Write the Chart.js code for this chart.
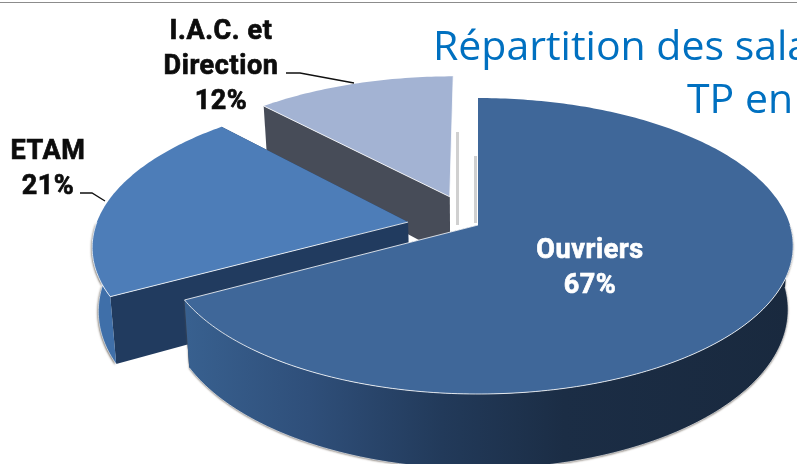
<!DOCTYPE html>
<html lang="fr">
<head>
<meta charset="utf-8">
<style>
html,body{margin:0;padding:0;background:#fff;overflow:hidden}
#wrap{width:797px;height:464px;position:relative}
</style>
<script src="https://cdn.jsdelivr.net/npm/chart.js@4/dist/chart.umd.min.js"></script>
</head>
<body>
<div id="wrap"><canvas id="c" width="797" height="464"></canvas></div>
<script>
// ---- data ----
const categories = ['Ouvriers', 'ETAM', 'I.A.C. et Direction'];
const shares = [67, 21, 12];
const titleLines = ['Répartition des sala', 'TP en'];

// ---- styles ----
const topColors = ['#3f6799', '#4d7db8', '#a3b3d3'];
const cutWallColors = ['#213b5f', '#213b5f', '#474c58'];
const rimWallColors = [null, '#3f6fa9', null];

// ---- pie placement: perspective camera and slice explosion ----
const cam = {cx: 478, top: {y0: 225, a: 312, b: 145}, bottom: {y0: 287, a: 307, b: 156}, p: -0.142};
const explode = [[0, 0], [-0.225, -0.02], [-0.093, -0.2]];
const drawOrder = [2, 1, 0];

function project(u, v, plane) {
  const w = 1 + cam.p * v;
  return [cam.cx + plane.a * u / w, plane.y0 + plane.b * v / w];
}
function rim(start, end, e, plane) {
  const pts = [], n = Math.max(8, Math.ceil((end - start) * 60));
  for (let i = 0; i <= n; i++) {
    const t = start + (end - start) * i / n;
    pts.push(project(Math.cos(t) + e[0], Math.sin(t) + e[1], plane));
  }
  return pts;
}
function path(ctx, pts, close) {
  ctx.beginPath();
  pts.forEach((p, i) => i ? ctx.lineTo(p[0], p[1]) : ctx.moveTo(p[0], p[1]));
  if (close) ctx.closePath();
}
function boldText(ctx, text, x, y) {
  ctx.strokeText(text, x, y);
  ctx.fillText(text, x, y);
}

const perspectivePie = {
  id: 'perspectivePie',
  beforeDatasetsDraw(chart) {
    const ctx = chart.ctx, arcs = chart.getDatasetMeta(0).data;
    ctx.save();
    // top rule
    ctx.fillStyle = '#8c8c8c';
    ctx.fillRect(0, 2, chart.width, 1);
    // title
    ctx.fillStyle = '#0070c0';
    ctx.font = '41px "Open Sans"';
    ctx.textBaseline = 'alphabetic';
    ctx.textAlign = 'left';
    ctx.fillText(titleLines[0], 433, 60);
    ctx.fillText(titleLines[1], 687, 113);

    drawOrder.forEach(i => {
      const arc = arcs[i], s = arc.startAngle, t = arc.endAngle, e = explode[i];
      const topRim = rim(s, t, e, cam.top), botRim = rim(s, t, e, cam.bottom);
      const apexT = project(e[0], e[1], cam.top), apexB = project(e[0], e[1], cam.bottom);
      const vs = Math.max(s, 0), ve = Math.min(t, Math.PI);   // rim part facing the viewer

      // cut faces
      ctx.fillStyle = cutWallColors[i];
      path(ctx, [apexT, topRim[topRim.length - 1], botRim[botRim.length - 1], apexB], true);
      if (i !== 2) ctx.fill();
      path(ctx, [apexT, topRim[0], botRim[0], apexB], true); ctx.fill();

      // outer wall
      if (ve > vs) {
        let fill = rimWallColors[i];
        if (i === 0) {
          fill = ctx.createLinearGradient(187, 0, 795, 0);
          fill.addColorStop(0, '#38608f');
          fill.addColorStop(0.2, '#2f4f7a');
          fill.addColorStop(0.42, '#223a5a');
          fill.addColorStop(0.62, '#1b2d45');
          fill.addColorStop(1, '#19293e');
        }
        const tv = rim(vs, ve, e, cam.top), bv = rim(vs, ve, e, cam.bottom);
        ctx.save();
        ctx.shadowColor = 'rgba(90,80,70,0.75)';
        ctx.shadowBlur = 2;
        ctx.shadowOffsetY = 1;
        ctx.shadowOffsetX = i === 0 ? 0 : -1;
        ctx.fillStyle = fill;
        path(ctx, tv.concat(bv.slice().reverse()), true); ctx.fill();
        ctx.restore();
        ctx.strokeStyle = 'rgba(255,255,255,0.75)';
        ctx.lineWidth = 0.8;
        path(ctx, bv, false); ctx.stroke();
      }

      // top face
      ctx.fillStyle = topColors[i];
      path(ctx, [apexT].concat(topRim), true); ctx.fill();
      ctx.strokeStyle = 'rgba(255,255,255,0.8)';
      ctx.lineWidth = 1;
      if (ve > vs) { path(ctx, rim(vs, ve, e, cam.top), false); ctx.stroke(); }
      if (i === 0) {
        path(ctx, [apexT, topRim[topRim.length - 1]], false); ctx.stroke();
      } else {
        path(ctx, [apexT, topRim[i === 1 ? 0 : topRim.length - 1]], false); ctx.stroke();
        if (i === 2) { path(ctx, [apexT, topRim[0]], false); ctx.stroke(); }
      }
    });

    // faint reflections beside the central gap
    ctx.fillStyle = 'rgba(170,170,170,0.55)';
    ctx.fillRect(456, 132, 3, 93);
    ctx.fillRect(474, 156, 3, 67);

    // leader lines
    ctx.strokeStyle = '#111';
    ctx.lineWidth = 1.4;
    path(ctx, [[286, 73], [300, 73], [354, 83]], false); ctx.stroke();
    path(ctx, [[80, 193], [92, 193], [105, 201]], false); ctx.stroke();

    // labels
    ctx.font = 'bold 27px Roboto';
    ctx.letterSpacing = '0.6px';
    ctx.textAlign = 'center';
    ctx.lineWidth = 0.7;
    const pct = i => shares[i] + '%';
    ctx.fillStyle = '#fff'; ctx.strokeStyle = '#fff';
    boldText(ctx, categories[0], 590, 258);
    boldText(ctx, pct(0), 590, 293);
    ctx.fillStyle = '#0c0c0c'; ctx.strokeStyle = '#0c0c0c';
    boldText(ctx, categories[1], 48, 159);
    boldText(ctx, pct(1), 48, 194);
    const words = categories[2].split(' ');
    boldText(ctx, words.slice(0, 2).join(' '), 221, 39);
    boldText(ctx, words.slice(2).join(' '), 221, 74);
    boldText(ctx, pct(2), 221, 109);
    ctx.restore();
    return false;
  }
};

new Chart(document.getElementById('c'), {
  type: 'pie',
  data: {
    labels: categories,
    datasets: [{data: shares, backgroundColor: topColors, borderWidth: 0}]
  },
  options: {
    responsive: false,
    animation: false,
    layout: {padding: 0},
    plugins: {legend: {display: false}, tooltip: {enabled: false}}
  },
  plugins: [perspectivePie]
});
</script>
</body>
</html>
